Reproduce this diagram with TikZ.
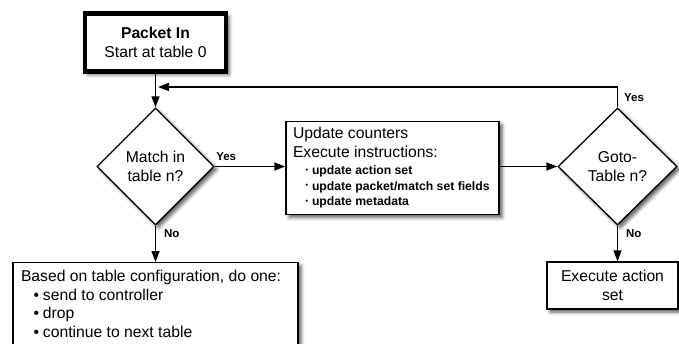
\documentclass[tikz,border=0pt]{standalone}
\usepackage{fontspec}
\setmainfont{Liberation Sans}
\usetikzlibrary{shapes.geometric,arrows.meta,shadows.blur,calc}

% font sizes used in the chart
\newcommand\mainfs{\fontsize{15.7pt}{19pt}\selectfont}
\newcommand\smallfs{\fontsize{12.2pt}{15.5pt}\selectfont\bfseries}
\newcommand\labfs{\fontsize{11.5pt}{13pt}\selectfont\bfseries}
% list bullets
\newcommand\bigbullet{\makebox[22pt][r]{\textbullet\hspace{4pt}}}
\newcommand\tinybullet{\makebox[19pt][r]{\raisebox{2.5pt}{\fontsize{7pt}{7pt}\selectfont\textbullet}\hspace{4pt}}}

\begin{document}
\begin{tikzpicture}[x=1pt,y=-1pt,
  shade/.style={blur shadow={shadow xshift=3pt,shadow yshift=-3pt,
      shadow blur radius=3.5pt,shadow opacity=65}},
  box/.style={draw, fill=white, line width=1.3pt, rectangle, inner sep=0pt, shade},
  decision/.style={draw, fill=white, line width=1.3pt, diamond, aspect=1,
      inner sep=0pt, shade, font=\mainfs, align=center},
  flow/.style={line width=1.3pt, -{Triangle[length=11pt,width=8pt]}},
  lab/.style={font=\labfs, inner sep=1pt}]
\useasboundingbox (0,0) rectangle (679,343);

% start box
\node[box, line width=4.5pt, minimum width=141pt, minimum height=58pt,
      font=\mainfs, align=center] (packet) at (155.5,42.5)
      {\textbf{Packet In}\\Start at table 0};

% decisions
\node[decision, minimum width=117pt, minimum height=117pt] (match)
      at (155.5,166.5) {Match in\\table n?};
\node[decision, minimum width=119pt, minimum height=117pt] (goto)
      at (617.5,166.5) {Goto-\\Table n?};

% instruction box
\node[box, anchor=north, minimum width=213pt, inner xsep=7pt, inner ysep=5pt,
      text height=11.5pt, text depth=71.5pt, font=\mainfs] (update) at (392.5,121)
      {\parbox[t]{199pt}{\raggedright Update counters\par Execute instructions:\par
       \vspace{2.3pt}\smallfs
       \tinybullet update action set\par
       \tinybullet update packet/match set fields\par
       \tinybullet update metadata}};

% action set box
\node[box, minimum width=131pt, minimum height=47pt, font=\mainfs, align=center]
      (exec) at (612.5,285.5) {Execute action\\set};

% table-miss box
\node[box, anchor=north, minimum width=285pt, inner xsep=8pt, inner ysep=7.5pt,
      text height=11.5pt, text depth=90pt, font=\mainfs] (based) at (155.5,262)
      {\parbox[t]{269pt}{\fontsize{15.7pt}{18.5pt}\selectfont\raggedright
       Based on table configuration, do one:\par
       \bigbullet send to controller\par
       \bigbullet drop\par
       \bigbullet continue to next table}};

% connectors
\coordinate (join) at (158,87);
\draw[flow] (packet) -- (match);
\draw[flow] (goto.north) |- node[lab, pos=0.25, anchor=west, xshift=5pt] (yes2) {Yes} (join);
\draw[flow] (match.east) -- node[lab, pos=0, anchor=west, yshift=10pt] (yes1) {Yes}
      (match.east -| update.west);
\draw[flow] (update.east |- goto.west) -- (goto.west);
\draw[flow] (match.south) -- node[lab, pos=0.22, anchor=west, xshift=7pt] (no1) {No}
      (based.north);
\draw[flow] (goto.south) -- node[lab, pos=0.22, anchor=west, xshift=7pt] (no2) {No}
      (goto.south |- exec.north);
\end{tikzpicture}
\end{document}
